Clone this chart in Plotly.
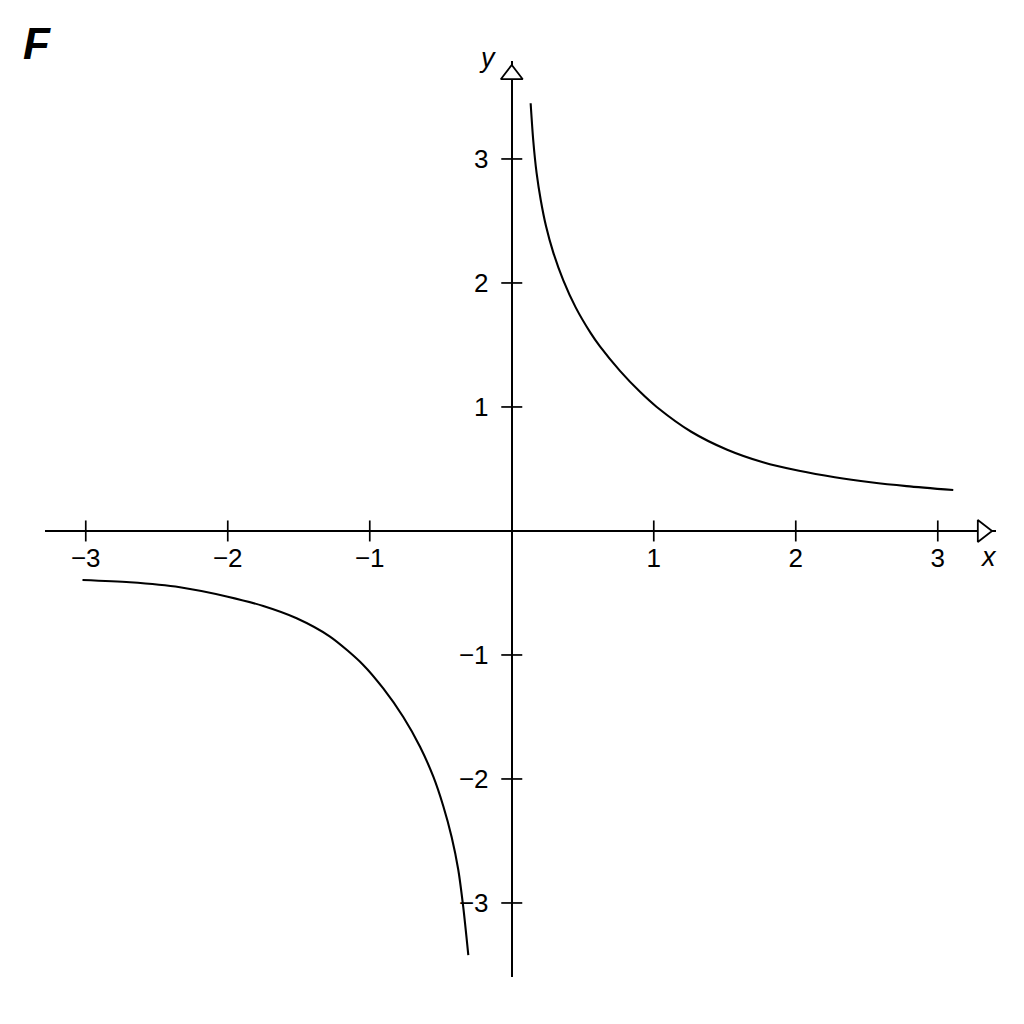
import plotly.graph_objects as go

# values
tick_vals = [-3, -2, -1, 1, 2, 3]

# right-hand branch (x > 0)
upper_x = [0.133, 0.151, 0.175, 0.204, 0.241, 0.292, 0.363, 0.449, 0.556, 0.621, 0.762,
           0.903, 1.021, 1.264, 1.517, 1.769, 2.023, 2.275, 2.527, 2.780, 3.109]
upper_y = [3.449, 3.153, 2.885, 2.669, 2.459, 2.247, 2.021, 1.805, 1.595, 1.488, 1.291,
           1.122, 1.000, 0.800, 0.655, 0.554, 0.485, 0.433, 0.393, 0.362, 0.330]

# left-hand branch (x < 0)
lower_x = [-3.023, -2.689, -2.337, -2.0, -1.75, -1.515, -1.28, -1.046, -0.905,
           -0.764, -0.646, -0.553, -0.482, -0.423, -0.377, -0.342, -0.306]
lower_y = [-0.395, -0.414, -0.454, -0.53, -0.605, -0.704, -0.852, -1.08, -1.27,
           -1.5, -1.74, -1.98, -2.22, -2.47, -2.73, -3.03, -3.42]

x_range = [-3.287, 3.410]
y_range = [-3.597, 3.790]

FONT = "Liberation Sans, Arial, sans-serif"
INK = "black"

# plotting area in page pixels (the page body adds an 8px offset)
AREA_L, AREA_R, AREA_T, AREA_B = 45, 996, 61, 977
W = AREA_R - AREA_L
H = AREA_B - AREA_T


def paper(px, py):
    return (px - AREA_L) / W, (AREA_B - py) / H


fig = go.Figure()

for xs, ys in [(upper_x, upper_y), (lower_x, lower_y)]:
    fig.add_trace(go.Scatter(
        x=xs, y=ys, mode="lines",
        line=dict(color=INK, width=2.1, shape="spline", smoothing=0.8),
        hoverinfo="skip", showlegend=False,
    ))

# crossing tick marks on both axes
fig.add_trace(go.Scatter(
    x=tick_vals, y=[0] * len(tick_vals), mode="markers",
    marker=dict(symbol="line-ns", size=15, line=dict(color=INK, width=1.7)),
    hoverinfo="skip", showlegend=False, cliponaxis=False,
))
fig.add_trace(go.Scatter(
    x=[0] * len(tick_vals), y=tick_vals, mode="markers",
    marker=dict(symbol="line-ew", size=15, line=dict(color=INK, width=1.7)),
    hoverinfo="skip", showlegend=False, cliponaxis=False,
))

# open arrowheads, tips sitting on the ends of the axes
arrow_size = 19
tip_off = 1.414 * arrow_size / 2
ux = (x_range[1] - x_range[0]) / W
uy = (y_range[1] - y_range[0]) / H
fig.add_trace(go.Scatter(
    x=[x_range[1] - tip_off * ux, 0], y=[0, y_range[1] - tip_off * uy], mode="markers",
    marker=dict(symbol=["triangle-right", "triangle-up"], size=arrow_size, color="white",
                line=dict(color=INK, width=1.8)),
    hoverinfo="skip", showlegend=False, cliponaxis=False,
))

x_pos = (0 - y_range[0]) / (y_range[1] - y_range[0])
y_pos = (0 - x_range[0]) / (x_range[1] - x_range[0])

f_x, f_y = paper(37, 43)
ylab_x, ylab_y = paper(487, 58)
xlab_x, xlab_y = paper(988, 557)

fig.update_layout(
    width=1024, height=1024,
    margin=dict(l=AREA_L - 8, r=1024 - (AREA_R - 8), t=AREA_T - 8, b=1024 - (AREA_B - 8)),
    paper_bgcolor="white", plot_bgcolor="white",
    font=dict(family=FONT, size=26, color=INK),
    xaxis=dict(
        range=x_range, anchor="free", position=x_pos, layer="below traces",
        showline=True, linecolor=INK, linewidth=2,
        showgrid=False, zeroline=False,
        tickvals=tick_vals, ticks="", ticklabelstandoff=4,
        tickfont=dict(family=FONT, size=26, color=INK),
    ),
    yaxis=dict(
        range=y_range, anchor="free", position=y_pos, layer="below traces",
        showline=True, linecolor=INK, linewidth=2,
        showgrid=False, zeroline=False,
        tickvals=tick_vals, ticks="", ticklabelstandoff=17,
        tickfont=dict(family=FONT, size=26, color=INK),
    ),
    annotations=[
        dict(text="<b><i>F</i></b>", xref="paper", yref="paper", x=f_x, y=f_y,
             xanchor="center", yanchor="middle", showarrow=False,
             font=dict(family=FONT, size=44, color=INK)),
        dict(text="<i>y</i>", xref="paper", yref="paper", x=ylab_x, y=ylab_y,
             xanchor="center", yanchor="middle", showarrow=False,
             font=dict(family=FONT, size=27, color=INK)),
        dict(text="<i>x</i>", xref="paper", yref="paper", x=xlab_x, y=xlab_y,
             xanchor="center", yanchor="middle", showarrow=False,
             font=dict(family=FONT, size=27, color=INK)),
    ],
)

fig.write_html("out.html")
